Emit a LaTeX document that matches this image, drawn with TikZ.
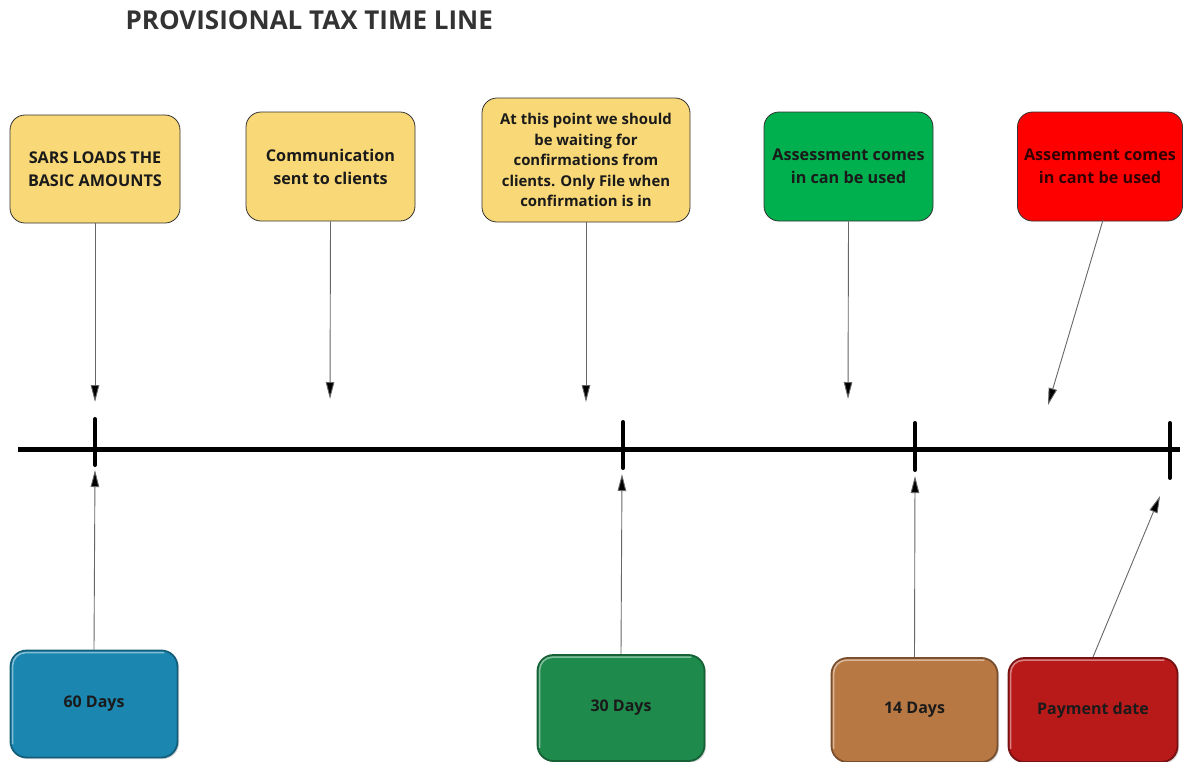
\documentclass[tikz,border=0pt]{standalone}
\usepackage{fontspec}
\setmainfont{Open Sans}
\usetikzlibrary{arrows.meta,shadows}
\definecolor{ybox}{HTML}{F8D877}
\definecolor{gbox}{HTML}{00B04F}
\definecolor{rbox}{HTML}{FF0000}
\definecolor{b60}{HTML}{1B87B0}
\definecolor{b30}{HTML}{1E8A4C}
\definecolor{b14}{HTML}{B87844}
\definecolor{bpay}{HTML}{B81A1A}
\definecolor{txt}{HTML}{1A1A1A}
\begin{document}
\begin{tikzpicture}[x=1pt,y=-1pt,
  topbox/.style={draw=black!80,line width=0.8pt,rounded corners=15pt,align=center,
    font=\bfseries\fontsize{16.2}{23}\selectfont,text=txt,inner sep=0pt},
  botbox/.style={rounded corners=16pt,line width=1.8pt,align=center,
    font=\bfseries\fontsize{16}{20}\selectfont,text=txt,inner sep=0pt,
    drop shadow={shadow xshift=1.5pt,shadow yshift=-1.5pt,opacity=0.35}},
  hilite/.style={draw=white,draw opacity=0.45,line width=1.6pt,rounded corners=13pt},
  conn/.style={draw=black!60,line width=0.9pt,
    -{Triangle[length=17pt,width=8.5pt,fill=black]}},
  tick/.style={line width=4pt,line cap=round}]
\useasboundingbox (0,0) rectangle (1183,761);

\node[font=\bfseries\fontsize{26}{28}\selectfont,text=black!80,anchor=west] (title) at (122,20) {PROVISIONAL TAX TIME LINE};

% top boxes
\node[topbox,fill=ybox,minimum width=170pt,minimum height=108pt] (t1) at (95,169) {SARS LOADS THE\\BASIC AMOUNTS};
\node[topbox,fill=ybox,minimum width=169pt,minimum height=109pt] (t2) at (330.5,166.5) {Communication\\sent to clients};
\node[topbox,fill=ybox,minimum width=208pt,minimum height=124pt,font=\bfseries\fontsize{14.9}{20.5}\selectfont] (t3) at (586,160) {At this point we should\\be waiting for\\confirmations from\\clients. Only File when\\confirmation is in};
\node[topbox,fill=gbox,minimum width=169pt,minimum height=109pt] (t4) at (848.5,166.5) {Assessment comes\\in can be used};
\node[topbox,fill=rbox,minimum width=165pt,minimum height=109pt,text=black!80!red] (t5) at (1100,166.5) {Assemment comes\\in cant be used};

% timeline
\coordinate (L) at (18,449);
\coordinate (R) at (1180,449);
\draw[line width=5pt] (L) -- (R);
\draw[tick] (95,419) -- (95,465);
\draw[tick] (623,422) -- (623,468);
\draw[tick] (915,423) -- (915,470);
\draw[tick] (1170,423) -- (1170,478);

% arrow ends
\coordinate (a1) at (95,402);
\coordinate (a2) at (330,399);
\coordinate (a3) at (586,402);
\coordinate (a4) at (848,399);
\coordinate (a5) at (1048,405);
\coordinate (s5) at (1103,220);
\coordinate (u1) at (95,470);
\coordinate (u2) at (622,474);
\coordinate (u3) at (915,476);
\coordinate (u4) at (1160,496);
\coordinate (sp) at (1093,657);

\draw[conn] (t1.south) -- (a1);
\draw[conn] (t2.south) -- (a2);
\draw[conn] (t3.south) -- (a3);
\draw[conn] (t4.south) -- (a4);
\draw[conn] (s5) -- (a5);

% bottom boxes
\node[botbox,fill=b60,draw=b60!70!black,minimum width=167pt,minimum height=107pt] (d60) at (94,704) {60 Days};
\node[botbox,fill=b30,draw=b30!70!black,minimum width=167pt,minimum height=106pt] (d30) at (621,708) {30 Days};
\node[botbox,fill=b14,draw=b14!65!black,minimum width=166pt,minimum height=104pt] (d14) at (914.5,710) {14 Days};
\node[botbox,fill=bpay,draw=bpay!65!black,minimum width=169pt,minimum height=104pt] (dp) at (1093,710) {Payment date};

\foreach \b in {d60,d30,d14,dp}{
  \draw[hilite] ([shift={(3,-14)}]\b.south west) -- ([shift={(3,3)}]\b.north west) -- ([shift={(-14,3)}]\b.north east);
}

\draw[conn] (d60.north) -- (u1);
\draw[conn] (d30.north) -- (u2);
\draw[conn] (d14.north) -- (u3);
\draw[conn] (sp) -- (u4);
\end{tikzpicture}
\end{document}
